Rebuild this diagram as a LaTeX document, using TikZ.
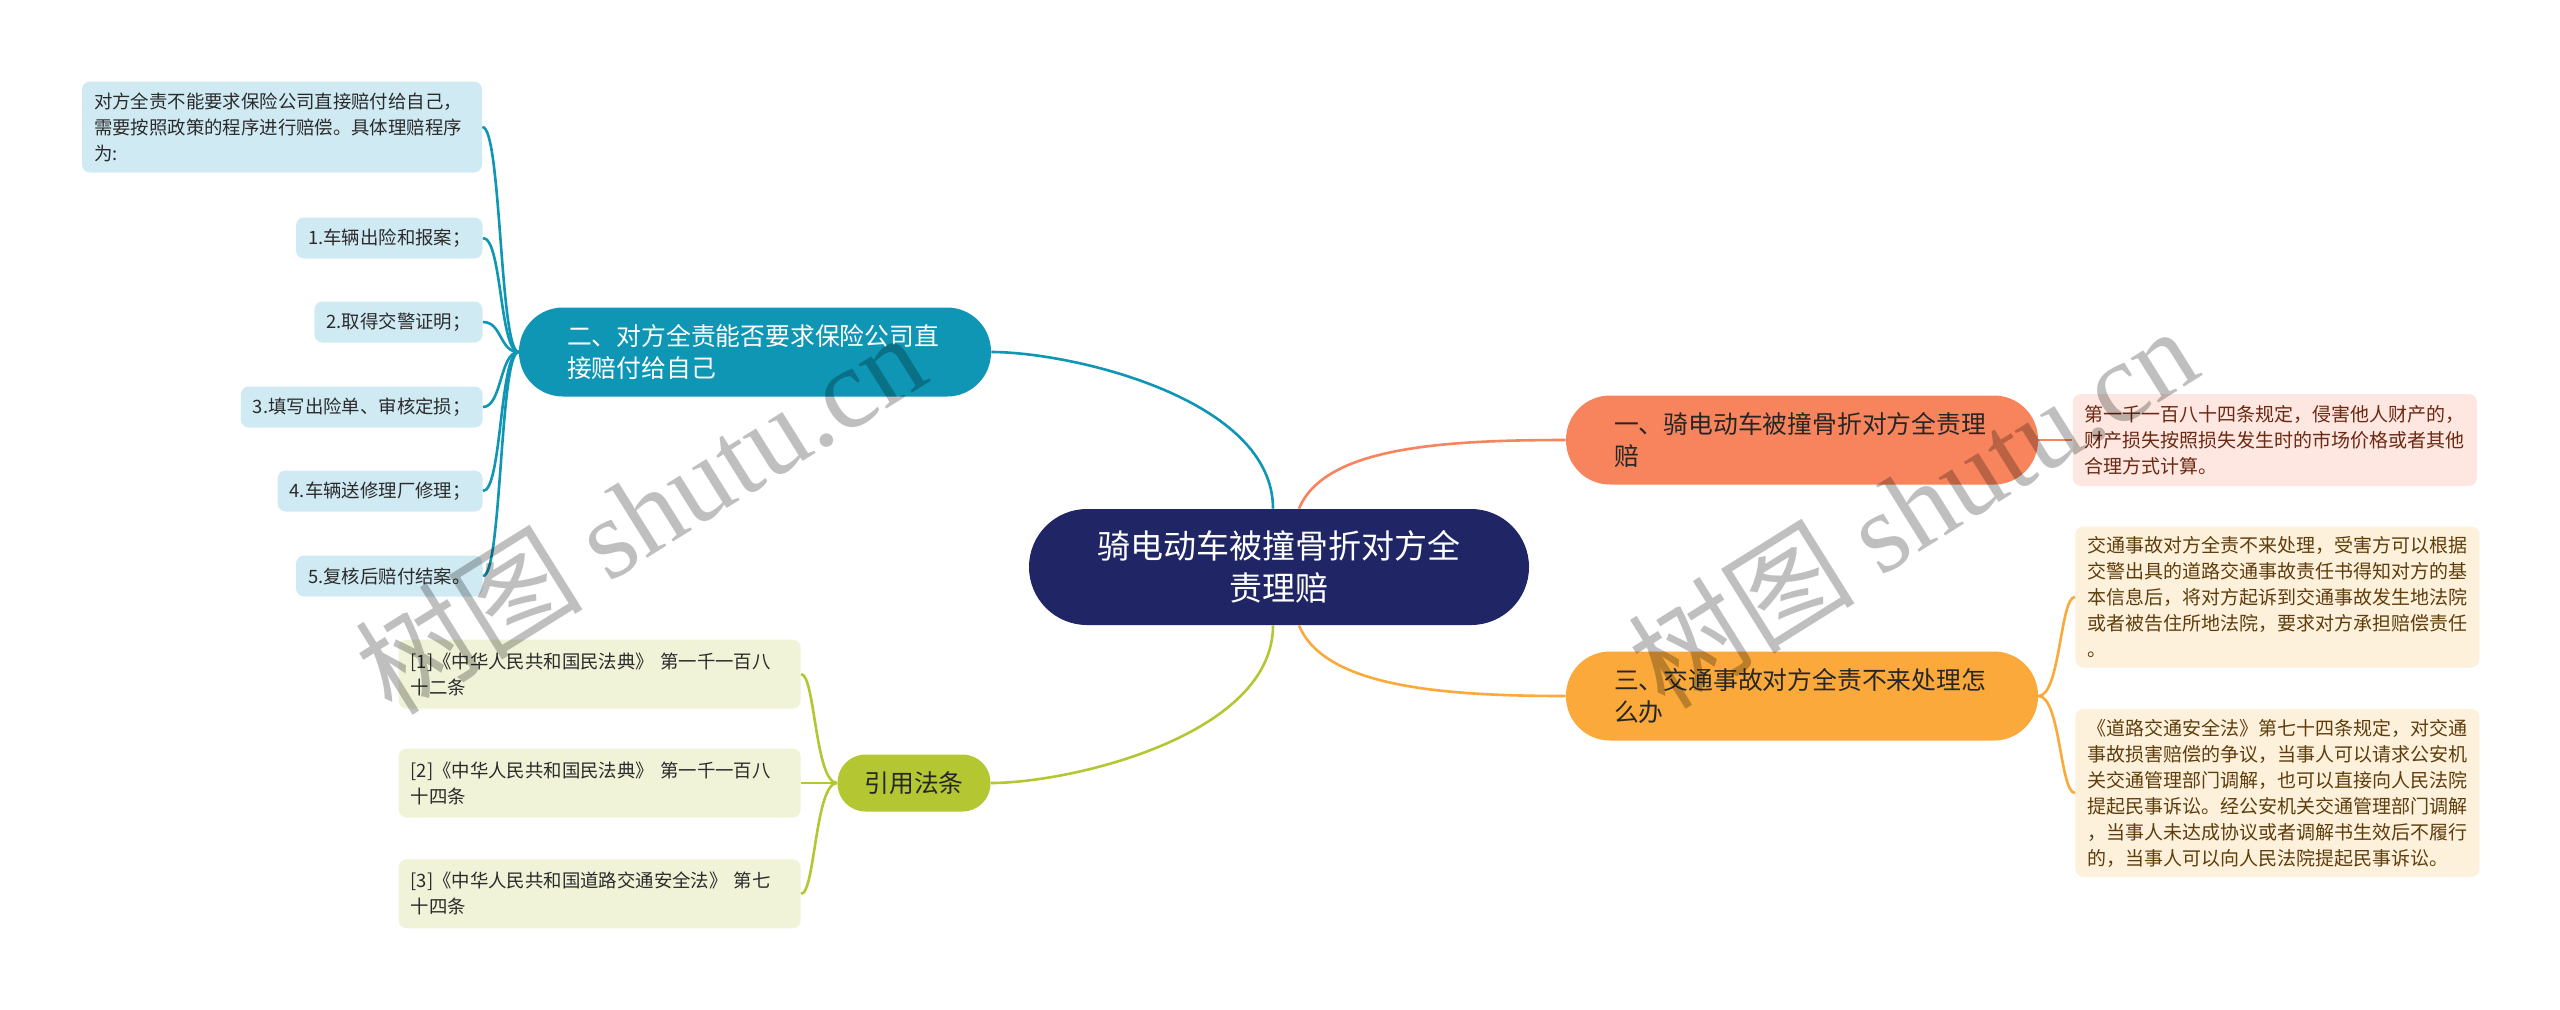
\documentclass[tikz,border=0pt]{standalone}
\usepackage{fontspec}
\setmainfont{Noto Sans CJK SC}
\newfontfamily\wmlatin{Liberation Serif}
\usetikzlibrary{positioning}
\definecolor{rootblue}{HTML}{1F2565}
\definecolor{tealb}{HTML}{0E96B4}
\definecolor{salmonb}{HTML}{F7845C}
\definecolor{orangeb}{HTML}{FAA93A}
\definecolor{greenb}{HTML}{B4C733}
\definecolor{leafblue}{HTML}{D0EAF3}
\definecolor{leafpink}{HTML}{FDE7E0}
\definecolor{leafcream}{HTML}{FEF1DC}
\definecolor{leafgreen}{HTML}{F0F3D8}
\definecolor{darktext}{HTML}{2B2B2B}
\definecolor{redbrown}{HTML}{6B2812}
\definecolor{brown}{HTML}{5E3D0C}
\tikzset{root node/.style={fill=rootblue,text=white,rounded corners=29pt,minimum width=250pt,minimum height=58pt,text width=190pt,align=center,font=\fontsize{16.5pt}{21pt}\selectfont},
branch node/.style={rounded corners=22pt,minimum height=44.5pt,align=left,font=\fontsize{12.4pt}{16.3pt}\selectfont},
long branch/.style={branch node,minimum width=236pt,text width=188pt,inner xsep=0pt},
leaf node/.style={rounded corners=4pt,inner xsep=6pt,align=left,text=darktext,font=\fontsize{9.2pt}{13pt}\selectfont},
step leaf/.style={leaf node,fill=leafblue,anchor=east,minimum height=20.5pt},
law leaf/.style={leaf node,fill=leafgreen,text width=189pt,minimum height=34.5pt},
right leaf/.style={leaf node,text width=190pt,font=\fontsize{9.5pt}{13pt}\selectfont},
link/.style={line width=1.3pt},
watermark/.style={text=black,text opacity=0.25,rotate=32,font=\fontsize{57pt}{60pt}\selectfont},
}
\begin{document}
\begin{tikzpicture}[x=0.5pt,y=-0.5pt]
				\fill[white] (0,0) rectangle (2560,1009);
				
				\node[root node] (root) at (1279,567) {骑电动车被撞骨折对方全\\责理赔};
				\node[long branch,fill=tealb,text=white] (two) at (755,352) {二、对方全责能否要求保险公司直\\接赔付给自己};
				\node[long branch,fill=salmonb,text=black!85] (one) at (1802,440) {一、骑电动车被撞骨折对方全责理\\赔};
				\node[long branch,fill=orangeb,text=black!85] (three) at (1802,696) {三、交通事故对方全责不来处理怎\\么办};
				\node[branch node,fill=greenb,text=black!85,minimum width=76.5pt,minimum height=28.5pt,rounded corners=14pt] (law) at (914,783) {引用法条};
				
				\node[leaf node,fill=leafblue,text width=188pt,minimum height=45.5pt] (note) at (282,127) {对方全责不能要求保险公司直接赔付给自己，\\需要按照政策的程序进行赔偿。具体理赔程序\\为:};
				\node[step leaf] (s1) at (483,238) {1.车辆出险和报案；};
				\node[step leaf] (s2) at (483,322) {2.取得交警证明；};
				\node[step leaf] (s3) at (483,407) {3.填写出险单、审核定损；};
				\node[step leaf] (s4) at (483,491) {4.车辆送修理厂修理；};
				\node[step leaf] (s5) at (483,576) {5.复核后赔付结案。};
				
				\node[right leaf,fill=leafpink,text=redbrown,minimum height=46pt] (r1) [right=17pt of one] {第一千一百八十四条规定，侵害他人财产的，\\财产损失按照损失发生时的市场价格或者其他\\合理方式计算。};
				\node[right leaf,fill=leafcream,text=brown,minimum height=70.5pt,anchor=west] (r3a) at (2075,597) {交通事故对方全责不来处理，受害方可以根据\\交警出具的道路交通事故责任书得知对方的基\\本信息后，将对方起诉到交通事故发生地法院\\或者被告住所地法院，要求对方承担赔偿责任\\。};
				\node[right leaf,fill=leafcream,text=brown,minimum height=84pt,anchor=west] (r3b) at (2075,793) {《道路交通安全法》第七十四条规定，对交通\\事故损害赔偿的争议，当事人可以请求公安机\\关交通管理部门调解，也可以直接向人民法院\\提起民事诉讼。经公安机关交通管理部门调解\\，当事人未达成协议或者调解书生效后不履行\\的，当事人可以向人民法院提起民事诉讼。};
				
				\node[law leaf] (l2) [left=18pt of law] {[2]《中华人民共和国民法典》~第一千一百八\\十四条};
				\node[law leaf] (l1) [above=19.5pt of l2] {[1]《中华人民共和国民法典》~第一千一百八\\十二条};
				\node[law leaf] (l3) [below=20.5pt of l2] {[3]《中华人民共和国道路交通安全法》~第七\\十四条};
				
				% main branches
				\draw[link,tealb] ([xshift=-3pt]root.north) .. controls +(0,-110) and +(80,0) .. (two.east);
				\draw[link,salmonb] ([xshift=10pt]root.north) .. controls +(25,-60) and +(-130,0) .. (one.west);
				\draw[link,orangeb] ([xshift=10pt]root.south) .. controls +(25,60) and +(-130,0) .. (three.west);
				\draw[link,greenb] ([xshift=-3pt]root.south) .. controls +(0,110) and +(80,0) .. (law.east);
				
				% leaves
				\draw[link,tealb] (two.west) .. controls +(-19,0) and +(19,0) .. (note.east);
				\draw[link,tealb] (two.west) .. controls +(-19,0) and +(19,0) .. (s1.east);
				\draw[link,tealb] (two.west) .. controls +(-19,0) and +(19,0) .. (s2.east);
				\draw[link,tealb] (two.west) .. controls +(-19,0) and +(19,0) .. (s3.east);
				\draw[link,tealb] (two.west) .. controls +(-19,0) and +(19,0) .. (s4.east);
				\draw[link,tealb] (two.west) .. controls +(-19,0) and +(19,0) .. (s5.east);
				\draw[link,salmonb] (one.east) -- (r1.west);
				\draw[link,orangeb] (three.east) .. controls +(22,0) and +(-15,0) .. (r3a.west);
				\draw[link,orangeb] (three.east) .. controls +(22,0) and +(-15,0) .. (r3b.west);
				\draw[link,greenb] (law.west) .. controls +(-22,0) and +(14,0) .. (l1.east);
				\draw[link,greenb] (law.west) .. controls +(-22,0) and +(14,0) .. (l2.east);
				\draw[link,greenb] (law.west) .. controls +(-22,0) and +(14,0) .. (l3.east);
				
				\node[watermark] (wm1) at (640,512) {树图 {\wmlatin shutu.cn}};
				\node[watermark] (wm2) at (1912,506) {树图 {\wmlatin shutu.cn}};
				
			\end{tikzpicture}
\end{document}
